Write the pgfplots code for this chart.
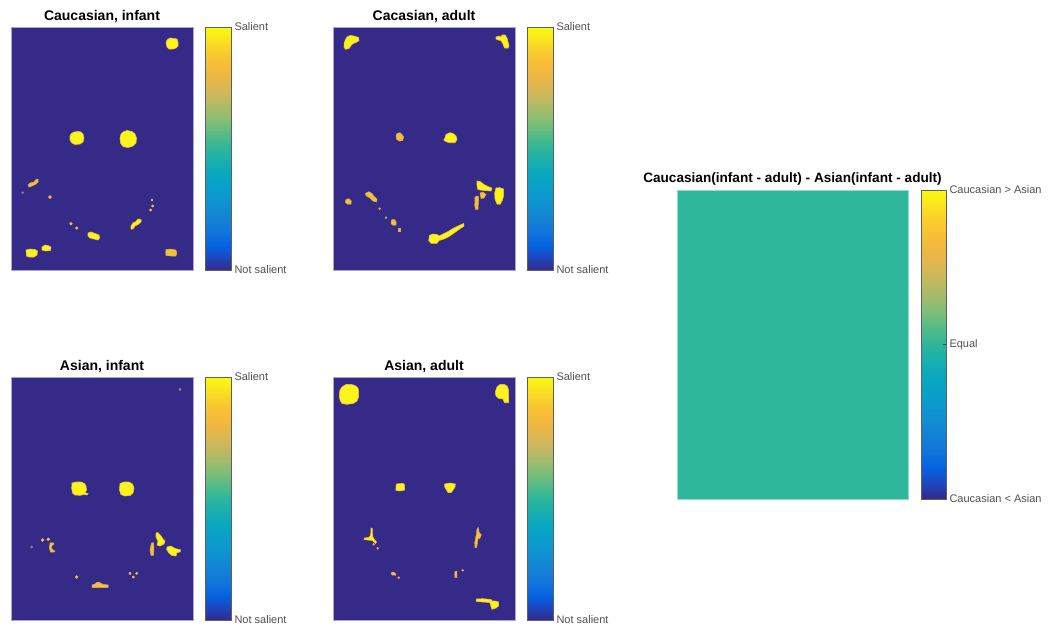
\documentclass[border=0pt]{standalone}
\usepackage{pgfplots}
\pgfplotsset{compat=1.18}
\usepackage{fontspec}
\setmainfont{Liberation Sans}
\definecolor{navy}{RGB}{53,42,135}
\definecolor{equalc}{RGB}{46,183,155}
\definecolor{imgframe}{RGB}{170,165,215}
\definecolor{eqframe}{RGB}{150,218,200}
\definecolor{blobfill}{RGB}{249,244,28}
\definecolor{blobedge}{RGB}{240,192,58}
\definecolor{blobofill}{RGB}{240,192,62}
\definecolor{blobodge}{RGB}{220,170,70}
\definecolor{dimdot}{RGB}{150,125,120}
\definecolor{cbframe}{RGB}{95,95,95}
\definecolor{lblgray}{RGB}{80,80,80}
\pgfplotsset{
  colormap={parula}{rgb255=(53,42,135) rgb255=(30,70,190) rgb255=(5,98,225)
    rgb255=(15,115,220) rgb255=(20,128,212) rgb255=(17,140,210) rgb255=(13,152,208)
    rgb255=(8,161,200) rgb255=(10,168,190) rgb255=(25,176,173) rgb255=(45,182,155)
    rgb255=(80,187,137) rgb255=(120,190,120) rgb255=(158,188,108) rgb255=(190,185,98)
    rgb255=(218,183,82) rgb255=(238,182,66) rgb255=(247,190,55) rgb255=(250,205,45)
    rgb255=(250,228,30) rgb255=(249,251,14)},
  colorbar shift/.style={xshift=0pt},
  cbbase/.style={
    title={}, y dir=normal,
    at={(parent axis.north east)}, anchor=north west,
    scale only axis, axis on top,
    axis line style={draw=cbframe, line width=0.8pt},
    xtick=\empty, yticklabel pos=right,
    yticklabel style={font=\fontsize{11}{13}\selectfont, text=lblgray},
  },
  imgaxis/.style={
    scale only axis, width=182pt, height=243pt,
    xmin=0, xmax=182, ymin=0, ymax=243, y dir=reverse,
    axis on top, xtick=\empty, ytick=\empty,
    axis line style={draw=imgframe, line width=0.8pt},
    axis background/.style={fill=navy},
    every axis title shift=0pt,
    title style={font=\fontsize{14}{16}\selectfont\bfseries, anchor=base, yshift=7pt},
    colormap name=parula, point meta min=0, point meta max=1,
    colorbar, colorbar/width=26pt,
    colorbar style={cbbase, xshift=12pt, width=26pt, height=243pt,
      ytick={0,1}, yticklabels={Not salient,Salient}, major tick length=0pt},
  },
  blob/.style={draw=blobedge, fill=blobfill, line width=0.6pt},
  blobo/.style={draw=blobodge, fill=blobofill, line width=0.5pt},
  dots/.style={only marks, mark=*, color=blobedge},
}
\begin{document}
\begin{tikzpicture}[x=1pt,y=1pt]
\useasboundingbox (0,0) rectangle (1049,-629);

% ---------------- Panel 1 ----------------
\begin{axis}[imgaxis, at={(11pt,-27pt)}, anchor=north west, title={Caucasian, infant}]
\addplot[blob] coordinates {(156,13)(159,11)(163,11.5)(166,12)(167,15)(167,19)(165,21)(162,22)(158,22)(156,20)(155,16)} -- cycle;
\addplot[blob] coordinates {(60,107)(63,105)(67,104.5)(70,105)(72,107)(73,111)(72,115)(69,117)(64,117.5)(61,116)(59,113)(59,109)} -- cycle;
\addplot[blob] coordinates {(112,105)(116,103.5)(121,104.5)(124,107)(125.5,111)(125,116)(122,119)(117,120.5)(112,119.5)(109.5,116)(109,111)(110,107)} -- cycle;
\addplot[blobo] coordinates {(17,158)(19,156)(23,155)(25,152.5)(27,152)(27,155)(25,157)(21,159)(18,160)} -- cycle;
\addplot[blob] coordinates {(120,199)(122,196)(125,194.5)(127,192)(130,192.5)(130,195)(127,197.5)(124,199)(122,202)(120,202)} -- cycle;
\addplot[blob] coordinates {(77,206)(80,205)(84,206.5)(88,208)(88.5,211)(87,213)(83,212)(79,211)(77,209)} -- cycle;
\addplot[blob] coordinates {(15,223)(19,222)(24,222.5)(26.5,224)(26,228)(23,230)(18,230)(15.5,229)} -- cycle;
\addplot[blob] coordinates {(31,220)(34,218)(37,218.5)(40,220)(39.5,223.5)(35,224)(31,223)} -- cycle;
\addplot[blobo] coordinates {(155,222.5)(160,222)(165,223)(165.7,226)(165,229)(160,229)(155,228.5)(154.7,225)} -- cycle;
\addplot[dots, color=dimdot, mark size=1pt] coordinates {(11.7,165.7)};
\addplot[dots, mark size=1.5pt] coordinates {(39,170)};
\addplot[dots, mark size=1.2pt] coordinates {(141,173)(141.7,179)(139.7,183)};
\addplot[dots, mark size=1.3pt] coordinates {(60,196.7)(65.7,201)};
\end{axis}

% ---------------- Panel 2 ----------------
\begin{axis}[imgaxis, at={(333pt,-27pt)}, anchor=north west, title={Cacasian, adult}]
\addplot[blob] coordinates {(14,10)(17,8.5)(21,9)(25.5,10.5)(26,13.5)(23,15.5)(20,16.5)(18,18.5)(16,21.5)(12.5,22.3)(11,20)(11.2,16)(12.5,12.5)} -- cycle;
\addplot[blob] coordinates {(163,10)(166,9)(168,10)(169,8)(172,8)(174,11)(175,15)(176,19)(175,21)(171.5,21)(170,17)(168,13.5)(165,13)(163,12)} -- cycle;
\addplot[blobo] coordinates {(64,106.5)(67,105.7)(69,107.5)(70.7,110)(69.5,113.5)(66,114)(63.5,112)(63,109)} -- cycle;
\addplot[blob] coordinates {(113,107.5)(117,105.7)(120,106.5)(123,109)(124,112.5)(122,115.7)(116,115.7)(113,114.5)(110.7,113)(112,111)} -- cycle;
\addplot[blobo] coordinates {(13,172.5)(16,171.7)(18.3,174)(18,177)(15,177.3)(12.3,175.5)} -- cycle;
\addplot[blobo] coordinates {(33,166)(36,164.7)(39,166.5)(41,169.5)(44,172)(43.5,175)(40,174)(37,171)(33.5,169)(32.3,167)} -- cycle;
\addplot[blobo] coordinates {(58.5,193)(61,192.3)(63,194.5)(63,198)(60,198.3)(58,196.5)} -- cycle;
\addplot[blobo] coordinates {(65,201)(67,201)(67,204.5)(65,204.5)} -- cycle;
\addplot[blob] coordinates {(96.5,208.5)(100,207)(104,207.5)(106,209)(111,206.5)(116,204)(120,201.5)(125,199)(130.7,196.5)(131,199)(126,202.5)(121,206)(116,209.5)(111,212)(106,213.5)(104,216.3)(98,216.3)(95.7,213.5)} -- cycle;
\addplot[blob] coordinates {(144,154)(147,154.5)(151,157.5)(156,160)(159,161)(158,164)(152,163.5)(147,163)(144.5,162)(144,158)} -- cycle;
\addplot[blob] coordinates {(163,161)(167,160.7)(170.5,162)(170.7,168)(169.5,173)(167,177.3)(164,177)(162,172)(161.7,166)} -- cycle;
\addplot[blobo] coordinates {(142,170)(144.5,169)(145.7,170)(145,182.3)(142.5,182.3)(141.7,178)} -- cycle;
\addplot[blobo] coordinates {(147,166)(150,165)(153,167.5)(151,171)(148,171.5)} -- cycle;
\addplot[dots, color=blobodge, mark size=1pt] coordinates {(46.7,181.7)(53,190.7)};
\end{axis}

% ---------------- Panel 3 ----------------
\begin{axis}[imgaxis, at={(11pt,-377pt)}, anchor=north west, title={Asian, infant}]
\addplot[blob] coordinates {(61,106)(65,105)(70,105)(73.5,106.5)(75,109)(75.5,113)(74,116)(77,116.5)(76,118)(73,117.5)(69,118.3)(64,118)(61.5,116)(60.7,111)} -- cycle;
\addplot[blob] coordinates {(109,106.5)(113,105)(118,105)(121.5,107)(123,111)(122,116)(119,118.5)(114,119)(110,117.5)(108.5,113)} -- cycle;
\addplot[blobo] coordinates {(39,166)(42,165.7)(43,167)(41,168.5)(40.5,171)(42,173)(44,174)(43,175)(39.5,175)(38.3,171)} -- cycle;
\addplot[blob] coordinates {(145,156)(147,155.7)(150,159)(152,162)(154,164)(153,167)(149,169)(146,168)(147,164)(145,160)} -- cycle;
\addplot[blobo] coordinates {(140.5,166)(142.5,165.7)(143,170)(142.5,178.3)(140,178.3)(139,173)} -- cycle;
\addplot[blob] coordinates {(156,170)(160,169)(163,171)(166,172)(169.7,173)(169,175)(166,175.5)(165,179)(161,178.5)(158,176)(155.7,172.5)} -- cycle;
\addplot[blobo] coordinates {(81,208)(84,207)(85.5,205.5)(88,205)(90,206.5)(93,207.5)(97.3,208)(97,210.7)(88,210.7)(81,210.5)} -- cycle;
\addplot[dots, color=dimdot, mark size=1.2pt] coordinates {(169,12.3)(20.7,170)};
\addplot[dots, mark size=1.5pt] coordinates {(31.7,163)(37.3,162.3)(65.7,200)};
\addplot[dots, mark size=1.2pt] coordinates {(119,196.3)(125.7,196.3)(122.3,200)};
\end{axis}

% ---------------- Panel 4 ----------------
\begin{axis}[imgaxis, at={(333pt,-377pt)}, anchor=north west, title={Asian, adult}]
\addplot[blob] coordinates {(9,10)(13,7.5)(18,7.3)(22,8.5)(25,11)(25.7,15)(25.5,20)(24,24)(20,26.5)(14,27.3)(9,26.5)(7,23)(6.3,18)(7,13)} -- cycle;
\addplot[blob] coordinates {(164,10)(167,7.5)(171,7.3)(174,9)(175.7,13)(175.5,18)(175.5,25.7)(171.5,25.7)(170,22)(166,21.5)(163,19)(162.3,15)} -- cycle;
\addplot[blob] coordinates {(63.5,107)(70,106.3)(71.7,108)(71.5,113)(67,114)(63,113.5)(63,110)} -- cycle;
\addplot[blob] coordinates {(111.7,107)(117,106)(122.3,107)(122,110)(120,113)(118,115.7)(115,115.5)(113,112)(111.7,110)} -- cycle;
\addplot[blob] coordinates {(38,151)(39.3,151.5)(39.5,159)(41,162)(43.5,165)(42.5,166.5)(39.5,163.5)(35,163)(31,162.5)(31.5,161)(36,160.5)(37.7,158)} -- cycle;
\addplot[blobo] coordinates {(144.5,151)(145.5,150.7)(146,155)(148.3,158)(147,161)(145,162)(144.5,166)(143.5,170.7)(142,170.5)(141.7,166)(142.5,161)(143.5,157)(143.8,153)} -- cycle;
\addplot[blobo] coordinates {(58.5,195.5)(60.5,195)(63,197)(62.5,198.3)(59,198)(58.3,196.5)} -- cycle;
\addplot[blobo] coordinates {(122,194.5)(123.8,194)(124,200.7)(122,200.7)(121.7,197)} -- cycle;
\addplot[blob] coordinates {(143.5,222)(150,221.7)(158,222.5)(159,224)(162,224)(165.7,225)(165.5,229)(163,231)(159,232.3)(157.5,228)(157,225.5)(150,225)(143.5,224.5)(143,223)} -- cycle;
\addplot[dots, color=blobodge, mark size=1pt] coordinates {(40.7,167.3)(44.7,171.3)(65.7,200.7)(129.7,193.3)};
\end{axis}

% ---------------- Panel 5 ----------------
\begin{axis}[imgaxis, at={(677pt,-190pt)}, anchor=north west,
  width=231pt, height=309pt, xmin=0, xmax=231, ymin=0, ymax=309,
  axis line style={draw=eqframe, line width=0.8pt},
  title={Caucasian(infant - adult) - Asian(infant - adult)},
  title style={font=\fontsize{13.6}{16}\selectfont\bfseries, yshift=1pt},
  colorbar/width=25pt,
  colorbar style={cbbase, xshift=1pt, width=25pt, height=309pt,
    ytick={0,0.5,1}, yticklabels={Caucasian < Asian,Equal,Caucasian > Asian},
    ytick pos=right, tick align=inside, major tick length=3pt,
    tick style={draw=black!75, line width=0.8pt}}]
\addplot[fill=equalc, draw=none] coordinates {(0,0)(231,0)(231,309)(0,309)} -- cycle;
\end{axis}
\end{tikzpicture}
\end{document}
